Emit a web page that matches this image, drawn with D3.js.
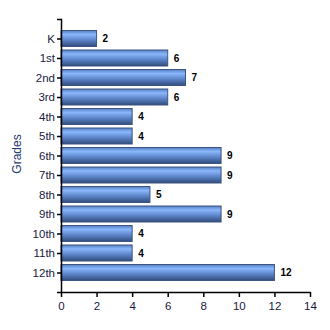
<!DOCTYPE html>
<html>
<head>
<meta charset="utf-8">
<script src="https://cdn.jsdelivr.net/npm/d3@7"></script>
<style>
  body { margin: 0; background: #fff; }
  text { font-family: "Liberation Sans", Arial, sans-serif; }
</style>
</head>
<body>
<div id="chart"></div>
<script>
const grades = ['K', '1st', '2nd', '3rd', '4th', '5th', '6th', '7th', '8th', '9th', '10th', '11th', '12th'];
const counts = [2, 6, 7, 6, 4, 4, 9, 9, 5, 9, 4, 4, 12];
const xTicks = [0, 2, 4, 6, 8, 10, 12, 14];

const data = grades.map((g, i) => ({grade: g, count: counts[i]}));

let dimensions = {
  width: 330,
  height: 330,
  margin: {top: 19, right: 20, bottom: 38, left: 61},
}
dimensions.boundedWidth = dimensions.width - dimensions.margin.left - dimensions.margin.right
dimensions.boundedHeight = dimensions.height - dimensions.margin.top - dimensions.margin.bottom

const wrapper = d3.select('#chart')
  .append('svg')
  .attr('width', dimensions.width)
  .attr('height', dimensions.height)

// bar gradient
const defs = wrapper.append('defs')
const grad = defs.append('linearGradient')
  .attr('id', 'barGrad')
  .attr('x1', 0).attr('y1', 0).attr('x2', 0).attr('y2', 1)
grad.append('stop').attr('offset', '0%').attr('stop-color', '#5580c4')
grad.append('stop').attr('offset', '25%').attr('stop-color', '#8ab6fc')
grad.append('stop').attr('offset', '60%').attr('stop-color', '#5c84c8')
grad.append('stop').attr('offset', '100%').attr('stop-color', '#304c7c')

const bounds = wrapper.append('g')
  .attr('transform', `translate(${dimensions.margin.left},${dimensions.margin.top})`)

//// scales
const xScale = d3.scaleLinear()
  .domain([0, 14])
  .range([0, 249])

const yScale = d3.scalePoint()
  .domain(grades)
  .range([0, dimensions.boundedHeight])
  .padding(1)

const barHeight = 16

//// bars
bounds.selectAll('rect.bar')
  .data(data)
  .join('rect')
  .attr('class', 'bar')
  .attr('x', 0)
  .attr('y', d => yScale(d.grade) - barHeight / 2)
  .attr('width', d => xScale(d.count))
  .attr('height', barHeight)
  .attr('fill', 'url(#barGrad)')
  .attr('stroke', '#3d5580')
  .attr('stroke-width', 1)

//// value labels
bounds.selectAll('text.value')
  .data(data)
  .join('text')
  .attr('class', 'value')
  .attr('x', d => xScale(d.count) + 6)
  .attr('y', d => yScale(d.grade))
  .attr('dy', '0.35em')
  .style('font-size', '10px')
  .style('font-weight', 'bold')
  .style('fill', '#000')
  .text(d => d.count)

//// axes
const xAxis = bounds.append('g')
  .attr('transform', `translate(0,${dimensions.boundedHeight})`)
  .call(d3.axisBottom(xScale).tickValues(xTicks).tickSize(5).tickSizeOuter(0))
xAxis.select('.domain').attr('stroke', '#000').attr('stroke-width', 1.5)
xAxis.selectAll('.tick line').attr('stroke', '#000').attr('stroke-width', 1.5)
xAxis.selectAll('.tick text')
  .attr('y', 10)
  .style('font-size', '11.5px')
  .style('fill', '#1a1a40')

const yAxis = bounds.append('g')
  .call(d3.axisLeft(yScale).tickSize(4).tickSizeOuter(4))
yAxis.select('.domain').attr('stroke', '#000').attr('stroke-width', 1.5)
yAxis.selectAll('.tick line').attr('stroke', '#000').attr('stroke-width', 1.5)
yAxis.selectAll('.tick text')
  .attr('x', -6)
  .style('font-size', '11.5px')
  .style('fill', '#1a1a40')

wrapper.append('text')
  .attr('transform', 'translate(21,154) rotate(-90)')
  .attr('text-anchor', 'middle')
  .style('font-size', '12px')
  .style('fill', '#1f3a70')
  .text('Grades')
</script>
</body>
</html>
